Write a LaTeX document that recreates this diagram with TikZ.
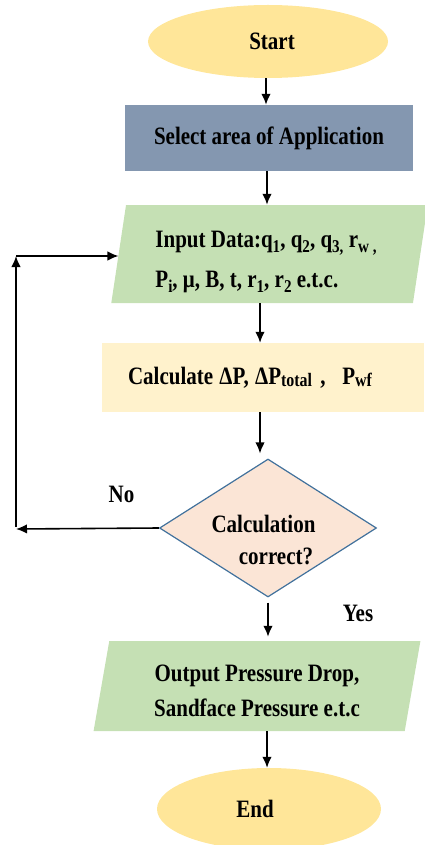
\documentclass[tikz,border=0pt]{standalone}
\usepackage{fontspec}
\setmainfont{Liberation Serif}[FakeStretch=0.84]
\usetikzlibrary{shapes.geometric,arrows.meta,calc}
\definecolor{termfill}{HTML}{FFE699}
\definecolor{selfill}{HTML}{8497B0}
\definecolor{iofill}{HTML}{C5E0B4}
\definecolor{calcfill}{HTML}{FFF2CC}
\definecolor{decfill}{HTML}{FBE5D6}
\definecolor{decline}{HTML}{41719C}
\newcommand\mysub[1]{\raisebox{-5pt}{\fontsize{18}{18}\selectfont #1}}
\newcommand\mysubc[1]{\raisebox{-2pt}{\fontsize{19}{19}\selectfont #1}}
\begin{document}
\begin{tikzpicture}[x=1pt,y=-1pt,
  basefont/.style={font=\fontsize{25}{30}\selectfont\bfseries},
  term/.style={ellipse, fill=termfill, inner sep=0pt, basefont},
  selbox/.style={rectangle, fill=selfill, minimum width=288pt, minimum height=66pt, inner sep=0pt, basefont},
  io/.style={trapezium, trapezium stretches=true, fill=iofill, inner sep=0pt},
  calcbox/.style={rectangle, fill=calcfill, minimum height=69pt, text width=270pt, inner xsep=26pt, inner ysep=0pt, align=left, basefont},
  dec/.style={diamond, fill=decfill, draw=decline, line width=1.2pt, shape aspect=1.57, inner sep=0pt, minimum width=217pt, minimum height=138pt, align=center, font=\fontsize{25}{32}\selectfont\bfseries},
  arr/.style={line width=1.6pt, -{Latex[length=11pt,width=9.5pt]}},
  lbl/.style={inner sep=0pt, basefont}]
\useasboundingbox (0,0) rectangle (424,845);

\node[term, minimum width=240pt, minimum height=73pt] (start) at (268,41.5) {\hspace*{8pt}Start};
\node[selbox] (select) at (269,138) {Select area of Application};
\node[io, minimum width=317pt, minimum height=98pt, trapezium left angle=81.9, trapezium right angle=98.1, align=left, font=\fontsize{25}{40}\selectfont\bfseries] (input) at (269.5,254)
  {\rule{0pt}{32pt}\hspace*{-7pt}Input Data:q\mysub{1}, q\mysub{2}, q\mysub{3,} r\mysub{w ,}\\
   \hspace*{-7pt}P\mysub{i}, μ, B, t, r\mysub{1}, r\mysub{2} e.t.c.};
\node[calcbox] (calc) at (263,377.5) {Calculate\kern-2pt\ ΔP,\kern-2pt\ ΔP\mysubc{total} ,\ \ P\mysubc{wf}};
\node[dec] (dec) at (268,528) {\rule{0pt}{42pt}\hspace*{-9pt}Calculation\\\hspace*{16pt}correct?};
\node[io, minimum width=328pt, minimum height=90pt, trapezium left angle=79.9, trapezium right angle=100.1, align=center, font=\fontsize{25}{35}\selectfont\bfseries] (output) at (257,686)
  {\rule{0pt}{26pt}Output Pressure Drop,\\ Sandface Pressure e.t.c};
\node[term, minimum width=224pt, minimum height=82pt] (end) at (269,809) {End\hspace*{28pt}};

\node[lbl] (nolbl) at (121.5,494.5) {No};
\node[lbl] (yeslbl) at (358,613) {Yes};

\coordinate (c1) at (16,529);
\coordinate (c2) at (16,256);

\draw[arr] ([xshift=-2pt]start.south) -- ([xshift=-2pt]start.south |- select.north);
\draw[arr] ([xshift=-2pt]select.south) -- ([xshift=-2pt]select.south |- input.north);
\draw[arr] ([xshift=-9.5pt]input.south) -- ([xshift=-9.5pt]input.south |- calc.north);
\draw[arr, shorten >=5pt] ([xshift=-3pt]calc.south) -- ([xshift=-3pt]calc.south |- dec.north);
\draw[arr, shorten <=5pt, shorten >=4pt] (dec.south) -- (dec.south |- output.north);
\draw[arr] ([xshift=10pt]output.south) -- ([xshift=10pt]output.south |- end.north);

\draw[arr] (dec.west) -- (c1);
\draw[arr] ([yshift=2pt]c1) -- (c2);
\draw[arr] (c2) -- (c2 -| input.left side);
\end{tikzpicture}
\end{document}
